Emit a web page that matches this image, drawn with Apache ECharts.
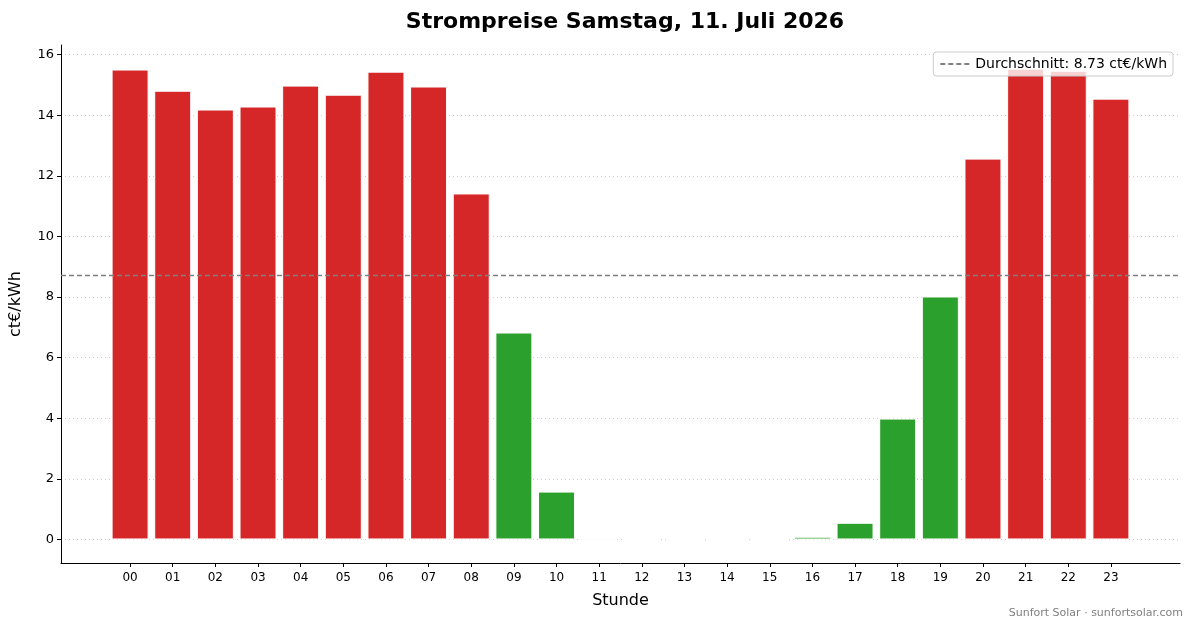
<!DOCTYPE html>
<html>
<head>
<meta charset="utf-8">
<script src="https://cdn.jsdelivr.net/npm/echarts@6/dist/echarts.min.js"></script>
<style>
  html, body { margin: 0; padding: 0; background: #fff; }
  #chart { width: 1193px; height: 628px; }
</style>
</head>
<body>
<div id="chart"></div>
<script>
// Stunden und Preise (ct€/kWh)
const hours = ['00', '01', '02', '03', '04', '05', '06', '07', '08', '09', '10', '11',
               '12', '13', '14', '15', '16', '17', '18', '19', '20', '21', '22', '23']
const prices = [15.51, 14.81, 14.19, 14.29, 14.98, 14.68, 15.44, 14.95, 11.42, 6.83, 1.58, 0.03,
                0.0, 0.0, 0.0, 0.0, 0.09, 0.55, 3.99, 8.02, 12.57, 15.54, 15.47, 14.55]
const yTicks = [0, 2, 4, 6, 8, 10, 12, 14, 16]
const xTicks = hours.map((h, i) => i)

const avg = prices.reduce((a, b) => a + b, 0) / prices.length
const avgName = 'Durchschnitt: ' + avg.toFixed(2) + ' ct€/kWh'

const font = 'DejaVu Sans'
var myChart = echarts.init(document.getElementById('chart'))

var option = {
	backgroundColor: '#fff',
	animation: false,
	title: {
		text: 'Strompreise Samstag, 11. Juli 2026',
		left: 620,
		textAlign: 'center',
		top: 6,
		textStyle: { fontFamily: font, fontSize: 22, fontWeight: 'bold', color: '#000' }
	},
	legend: {
		right: 20,
		top: 52,
		data: [avgName],
		backgroundColor: 'rgba(255,255,255,0.8)',
		borderColor: '#cccccc',
		borderWidth: 1,
		borderRadius: 3,
		padding: [5, 6, 5, 6],
		itemWidth: 30,
		itemHeight: 10,
		itemGap: 8,
		itemStyle: { opacity: 0 },
		textStyle: { fontFamily: font, fontSize: 14, color: '#000' }
	},
	grid: { left: 61, right: 13, top: 45, bottom: 65 },
	xAxis: {
		type: 'value',
		min: -1.62,
		max: 24.62,
		name: 'Stunde',
		nameLocation: 'middle',
		nameGap: 30,
		nameTextStyle: { fontFamily: font, fontSize: 16, color: '#000' },
		axisLine: { onZero: false, lineStyle: { color: '#000', width: 1 } },
		axisTick: { customValues: xTicks, length: 4, lineStyle: { color: '#000' } },
		axisLabel: {
			customValues: xTicks,
			margin: 9,
			fontFamily: font,
			fontSize: 12,
			color: '#000',
			formatter: v => hours[v]
		},
		splitLine: { show: false }
	},
	yAxis: {
		type: 'value',
		min: -0.777,
		max: 16.32,
		name: 'ct€/kWh',
		nameLocation: 'middle',
		nameGap: 37,
		nameRotate: 90,
		nameTextStyle: { fontFamily: font, fontSize: 16, color: '#000' },
		axisLine: { show: true, onZero: false, lineStyle: { color: '#000', width: 1 } },
		axisTick: { show: true, customValues: yTicks, length: 4, lineStyle: { color: '#000' } },
		axisLabel: { customValues: yTicks, margin: 7, fontFamily: font, fontSize: 13, color: '#000' },
		splitLine: { show: false }
	},
	series: [
		{
			// Gitterlinien
			type: 'line',
			data: [],
			z: 0,
			silent: true,
			markLine: {
				silent: true,
				z: 0,
				symbol: 'none',
				label: { show: false },
				lineStyle: { type: [1, 3], color: '#cccccc', width: 1 },
				data: yTicks.map(t => ({ yAxis: t }))
			}
		},
		{
			type: 'bar',
			z: 2,
			barWidth: 37,
			data: prices.map((p, i) => [i, p]),
			itemStyle: {
				borderColor: '#fff',
				borderWidth: 1,
				color: p => (p.value[1] < avg ? '#2ca02c' : '#d62728')
			}
		},
		{
			name: avgName,
			type: 'line',
			data: [],
			z: 5,
			symbol: 'none',
			lineStyle: { type: [5, 3], color: '#808080', width: 1.4 },
			itemStyle: { color: '#808080' },
			markLine: {
				silent: true,
				z: 5,
				symbol: 'none',
				label: { show: false },
				lineStyle: { type: [5, 3], color: '#808080', width: 1.4 },
				data: [{ yAxis: avg }]
			}
		}
	],
	graphic: [
		{
			type: 'text',
			right: 10,
			bottom: 9,
			style: {
				text: 'Sunfort Solar · sunfortsolar.com',
				fontFamily: font,
				fontSize: 11,
				fill: '#808080'
			}
		}
	]
}

myChart.setOption(option)
</script>
</body>
</html>
